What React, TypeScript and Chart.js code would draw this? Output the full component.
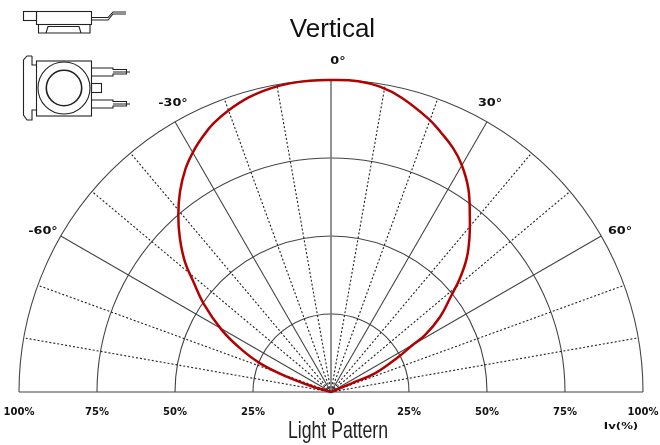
import React, { useEffect, useRef } from "react";
import { Chart, registerables } from "chart.js";

Chart.register(...registerables);

const patternAngles = [-78, -73.3, -70.9, -68, -64.3, -60.4, -55.2, -51.3, -48.3, -44.5, -40.8, -37, -33.1, -29.6, -26.4, -23.7, -20.1, -15.7, -11.4, -7.6, -3.9, 0, 5, 9.1, 13.5, 19.6, 22.9, 26.6, 29.9, 34, 38.1, 42, 45.4, 48.6, 51.2, 55.4, 58.8, 60.2, 62.8, 67, 67.2, 70];
const patternValues = [0, 7, 15, 24.5, 32.4, 40.3, 49.8, 56.5, 62.7, 69.1, 74.9, 80.4, 85.4, 89, 91.8, 93.9, 96, 98, 99.2, 99.8, 100, 100, 100, 99.1, 97, 93, 90.4, 87.4, 84, 78.7, 72.1, 66.3, 61.1, 55.1, 49.6, 42.5, 35.2, 29.8, 23.7, 15.3, 7.2, 0];
const ringValues = [25, 50, 75, 100];
const solidSpokes = [-60, -30, 30, 60];
const dashedSpokes = [-80, -70, -50, -40, -20, -10, 10, 20, 40, 50, 70, 80];
const axisTicks = [-100, -75, -50, -25, 0, 25, 50, 75, 100];
const angleLabels = ["0°", "-30°", "30°", "-60°", "60°"];
const LABEL_FONT = "bold 10px 'DejaVu Sans'";

const toXY = (angle: number, r: number) => ({
  x: r * Math.sin((angle * Math.PI) / 180),
  y: r * Math.cos((angle * Math.PI) / 180),
});

const polarGrid = {
  id: "polarGrid",
  beforeDatasetsDraw(chart: any) {
    const { ctx, scales } = chart;
    const px = (v: number) => scales.x.getPixelForValue(v);
    const py = (v: number) => scales.y.getPixelForValue(v);
    const cx = px(0);
    const cy = py(0);
    ctx.save();
    ctx.strokeStyle = "#444";
    ctx.lineWidth = 1.1;
    ringValues.forEach((r) => {
      ctx.beginPath();
      ctx.arc(cx, cy, px(r) - cx, Math.PI, 2 * Math.PI);
      ctx.stroke();
    });
    ctx.beginPath();
    ctx.moveTo(px(-100), cy);
    ctx.lineTo(px(100), cy);
    ctx.stroke();
    solidSpokes.forEach((a) => {
      const p = toXY(a, 100);
      ctx.beginPath();
      ctx.moveTo(cx, cy);
      ctx.lineTo(px(p.x), py(p.y));
      ctx.stroke();
    });
    ctx.setLineDash([2, 2]);
    ctx.strokeStyle = "#222";
    dashedSpokes.forEach((a) => {
      const p = toXY(a, 100);
      ctx.beginPath();
      ctx.moveTo(cx, cy);
      ctx.lineTo(px(p.x), py(p.y));
      ctx.stroke();
    });
    ctx.setLineDash([]);
    ctx.strokeStyle = "#777";
    ctx.lineWidth = 1.6;
    ctx.beginPath();
    ctx.moveTo(cx, cy);
    ctx.lineTo(cx, py(100));
    ctx.stroke();
    ctx.restore();
  },
  afterDraw(chart: any) {
    const { ctx } = chart;
    ctx.save();
    ctx.fillStyle = "#111";
    ctx.textAlign = "center";
    ctx.textBaseline = "middle";
    ctx.font = LABEL_FONT;
    const spots: [number, number][] = [[338, 61], [173, 103], [490, 103], [43, 231], [620, 231]];
    angleLabels.forEach((t, i) => {
      ctx.save();
      ctx.translate(spots[i][0], spots[i][1]);
      ctx.scale(1.28, 1);
      ctx.fillText(t, 0, 0);
      ctx.restore();
    });
    ctx.save();
    ctx.translate(621, 427);
    ctx.scale(1.3, 1);
    ctx.font = "bold 9px 'DejaVu Sans'";
    ctx.fillText("Iv(%)", 0, 0);
    ctx.restore();
    ctx.save();
    ctx.translate(338, 431);
    ctx.scale(0.735, 1);
    ctx.font = "24px 'Liberation Sans'";
    ctx.fillStyle = "#222";
    ctx.fillText("Light Pattern", 0, 0);
    ctx.restore();
    ctx.restore();
  },
};

function Sketch() {
  const s = { fill: "none", stroke: "#222", strokeWidth: 1.1 };
  return (
    <svg width={140} height={125} style={{ position: "absolute", left: 0, top: 0 }}>
      <g {...s}>
        <rect x={23.5} y={11.5} width={13} height={9} />
        <rect x={36.5} y={11.5} width={55} height={13} />
        <path d="M38.5 24.5V33H90V24.5M46 33L48 26.5H79L81 33" />
        <path d="M91.5 17.5H108L113 12H126M91.5 20H108L113 14H126" />
        <rect x={36.5} y={61} width={55} height={55} />
        <circle cx={64} cy={88} r={26} />
        <circle cx={64} cy={88} r={17.7} strokeWidth={1.6} />
        <path d="M32 56H27L23.5 60V115L27 120H32V110H36.5M32 56V65H36.5" />
        <path d="M91.5 68H113V69.5H126.5V74H113V76H91.5M113 72H130" />
        <path d="M91.5 100H113V101.5H126.5V106H113V108H91.5M113 104H130" />
        <rect x={91.5} y={83.5} width={10} height={9} />
      </g>
    </svg>
  );
}

export default function App() {
  const ref = useRef<HTMLCanvasElement | null>(null);
  useEffect(() => {
    const chart = new Chart(ref.current as HTMLCanvasElement, {
      type: "scatter",
      data: {
        datasets: [
          {
            label: "Light Pattern",
            data: patternAngles.map((a, i) => toXY(a, patternValues[i])),
            showLine: true,
            borderColor: "#b30000",
            borderWidth: 2.5,
            pointRadius: 0,
            tension: 0.4,
          },
        ],
      },
      options: {
        animation: false,
        responsive: false,
        layout: { padding: { left: 5 } },
        plugins: {
          legend: { display: false },
          tooltip: { enabled: false },
          title: {
            display: true,
            text: "Vertical",
            color: "#111",
            font: { size: 26, family: "'Liberation Sans'", weight: "normal" },
            padding: { top: 14.4, bottom: 0 },
          },
        },
        scales: {
          x: {
            type: "linear",
            position: "bottom",
            min: (5 - 331) / 3.12,
            max: (660 - 331) / 3.12,
            grid: { display: false },
            border: { display: false },
            afterBuildTicks: (scale: any) => {
              scale.ticks = axisTicks.map((value) => ({ value }));
            },
            afterFit: (scale: any) => {
              scale.height = 45;
              scale.paddingLeft = 0;
              scale.paddingRight = 0;
            },
            ticks: {
              autoSkip: false,
              maxRotation: 0,
              padding: -2,
              color: "#111",
              font: { family: "'DejaVu Sans'", size: 10, weight: "bold" },
              callback: (v: any) => (Number(v) === 0 ? "0" : `${Math.abs(Number(v))}%`),
            },
          },
          y: {
            type: "linear",
            display: false,
            min: -8 / 3.12,
            max: (392 - 45.6) / 3.12,
          },
        },
      } as any,
      plugins: [polarGrid],
    });
    return () => chart.destroy();
  }, []);
  return (
    <div style={{ position: "fixed", left: 0, top: 0, width: 660, height: 445, background: "#fff" }}>
      <canvas ref={ref} width={660} height={445} style={{ display: "block" }} />
      <Sketch />
    </div>
  );
}
